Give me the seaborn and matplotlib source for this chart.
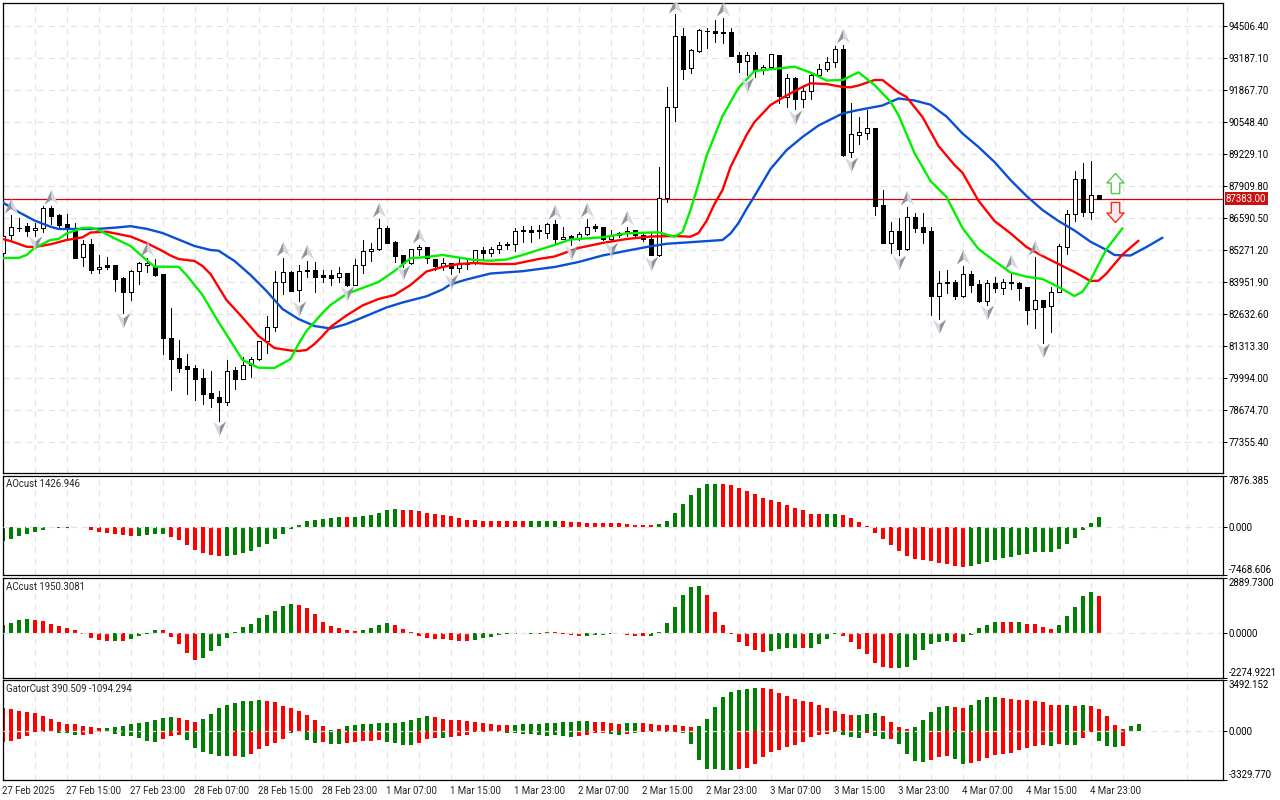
import matplotlib
matplotlib.use("Agg")
import matplotlib.pyplot as plt
from matplotlib.path import Path
import numpy as np
import pandas as pd
import seaborn as sns

# hourly candles, 27 Feb 07:00 -> 5 Mar 00:00
opens = [85149,85879,86192,86250,86085,86167,86992,86703,86332,86098,
         84972,85508,84476,84642,84642,84119,83529,84395,84667,84568,
         84284,81633,80821,80491,80409,79997,79366,79201,78995,80326,
         79968,80521,80767,81510,82087,83966,84354,83612,84436,84436,
         84230,84230,84148,84313,83843,84642,85220,85302,86167,85603,
         85055,84725,85302,85384,84890,84613,84725,84519,84696,84725,
         85261,85162,85302,85520,85508,86085,86085,86085,85986,86345,
         85739,85850,85714,85932,86262,86209,85714,85879,85961,86097,
         85891,85714,85067,87404,91180,94094,92787,93488,94288,94300,
         94247,94247,93311,93076,93311,92692,92829,93311,91592,92350,
         91485,91839,92486,92721,93010,93558,89300,90026,90108,90290,
         87128,85574,86056,85314,86621,86221,86044,83389,83970,83954,
         83377,84271,83871,83183,83900,83719,83912,83900,83748,82829,
         83200,82977,83554,85409,86744,88187,86827,87528]
highs = [86015,86716,86604,86398,86378,87087,87087,86773,86757,86406,
         85685,85714,85055,84972,84642,84148,84449,84791,84956,84890,
         84284,82870,81563,80986,80533,80380,80285,79473,80739,80462,
         80875,80850,81534,82553,84407,84931,84387,84642,84820,84766,
         84461,84449,84560,84337,84902,85685,85574,86550,86262,85632,
         85055,85314,85479,85409,84890,84931,84750,84931,84931,85273,
         85409,85384,85590,85615,86192,86262,86262,86303,86374,86510,
         86209,85891,86027,86550,86345,86233,86097,86027,86233,86097,
         85961,85961,88707,91979,95001,94411,93546,94370,94411,94754,
         94824,94411,93422,93422,93422,92899,93352,93311,92528,92392,
         92074,92528,92928,93241,93694,93723,91320,90743,91044,90314,
         87746,86414,86592,87058,86811,86811,86233,84407,84449,84036,
         84613,84407,84036,84036,84172,84078,84313,83967,83760,84997,
         83212,83760,85508,86921,88529,88846,88942,87540]
lows = [85026,85685,86069,85850,85850,86027,86332,86233,85685,84956,
        84613,84337,84337,84502,83594,82688,83212,83871,84379,84221,
        80999,79502,80257,79337,79090,78925,78814,78237,78884,79543,
        79968,80050,80739,81040,81947,83459,83563,83183,84148,83554,
        83967,83843,83942,83789,83830,84337,84832,85273,85545,84791,
        84560,84696,85067,84750,84449,84449,84284,84366,84502,84696,
        84861,85026,85137,85302,85232,85615,85615,85756,85756,85561,
        85739,85479,85685,85891,86069,85685,85685,85796,85850,85796,
        85655,85067,85026,87264,90603,92322,92581,93447,93612,93859,
        93818,93282,92622,92487,92416,92528,92816,91320,91180,91085,
        91180,91497,92445,92651,92829,89148,89119,89642,89836,86716,
        85549,85162,85067,85285,86002,85549,82594,82429,83512,83265,
        83348,83529,83142,83006,83554,83459,83665,83212,82223,82058,
        81428,81904,83529,85108,86468,86674,86563,87375]
closes = [85862,86233,86167,86069,86167,86992,86687,86316,86151,84956,
          85508,84461,84584,84584,84090,83529,84395,84725,84725,84248,
          81658,80792,80422,80380,79968,79350,79185,78995,80297,79968,
          80533,80767,81510,82087,83966,84354,83596,84420,84407,84172,
          84160,84131,84313,83830,84642,85220,85302,86167,85574,85038,
          84725,85302,85384,84931,84613,84725,84519,84696,84725,85261,
          85162,85302,85467,85467,86044,86044,86027,86044,86345,85727,
          85821,85714,85932,86233,86192,85714,85891,85961,86069,85891,
          85714,85067,87404,91180,94094,92734,93517,94329,94313,94205,
          94205,93282,93035,93311,92692,92804,93340,91621,92350,91485,
          91839,92486,92721,93010,93546,89189,90042,90125,90290,87099,
          85574,86044,85314,86621,86180,86027,83389,83900,83900,83377,
          84271,83843,83171,83900,83719,83941,83941,83719,82812,83200,
          82936,83529,85426,86744,88187,86827,87528,87383]

# alligator lines, read at the bars where they bend
jaw_k = [0,2,4,6,7,10,12,14,16,18,20,22,24,26,27,29,31,33,35,37,39,41,43,45,48,50,53,55,56,58,61,65,69,
         72,75,78,81,83,86,90,91,92,93,94,96,98,100,102,105,107,110,111,112,114,116,118,120,122,124,126,
         128,130,132,134,136,138,139,141,143,145]
jaw_vals = [87239,86839,86489,86233,86139,86139,86147,86192,86254,86147,85974,85706,85438,85273,85244,
            84820,84243,83583,82841,82429,82140,82037,82223,82491,82903,83109,83365,83645,83859,84057,
            84304,84399,84572,84778,85046,85240,85426,85529,85595,85685,85953,86386,86963,87499,88612,
            89387,89931,90405,90900,91044,91230,91374,91518,91435,91262,90776,90075,89519,88900,88158,
            87499,86922,86468,86077,85615,85273,85067,85046,85397,85780]
teeth_k = [0,1,3,4,6,8,10,11,13,16,18,20,21,22,24,25,26,28,30,32,34,36,37,38,39,40,41,43,45,47,49,51,53,55,
           57,59,61,64,67,69,72,75,78,81,84,86,87,88,89,90,91,93,94,96,98,100,101,103,105,106,107,109,110,
           112,113,115,117,119,120,122,124,126,128,130,132,134,136,137,138,140,142]
teeth_vals = [85726,85644,85409,85397,85508,85685,85796,85994,86027,85829,85562,85232,85046,84902,84820,
              84613,84284,83212,82491,81728,81233,81130,81110,81151,81398,81728,82099,82573,82986,83253,
              83418,83830,84387,84572,84696,84737,84696,84696,84902,85005,85356,85562,85726,85829,85850,
              85821,85974,86468,87169,87746,88694,90013,90549,91250,91642,91992,92144,92115,91992,91979,
              92054,92280,92280,91765,91580,90755,89560,88777,88459,87305,86468,85961,85397,85026,84696,
              84366,83995,84008,84304,85088,85656]
lips_k = [0,2,3,4,6,7,8,10,11,12,14,16,18,19,22,23,25,27,29,30,32,34,36,37,38,40,41,43,45,47,49,51,53,55,57,
          59,61,63,65,67,69,71,75,78,82,84,85,86,87,88,90,92,94,99,101,103,105,107,109,111,112,114,116,118,
          120,122,124,126,128,130,132,134,135,136,138,140]
lips_vals = [84943,84943,85067,85356,85685,85726,85953,86180,86192,86097,85755,85438,84861,84584,84584,
             84243,83418,82305,81275,80739,80421,80409,80780,81398,81934,82676,83006,83459,83707,83954,
             84407,84931,84984,85067,84964,84861,84832,84881,85067,85273,85479,85706,85796,85961,86002,
             85821,86015,86922,87994,89148,90796,91951,92651,92829,92590,92260,92280,92598,92074,91386,
             90838,89271,88117,87458,86180,85314,84820,84345,84172,84077,83748,83377,83554,84036,85314,
             86167]

# fractals
up_k = [1,6,18,35,38,47,52,69,73,78,84,90,105,113,120,126,129]
up_price = [87087,87458,85314,85314,85190,86922,85850,86839,86922,86592,95331,95207,94094,87416,84984,84778,85355]
down_k = [4,15,27,37,43,50,56,71,76,81,93,99,106,112,117,123,130]
down_price = [85562,82388,77936,82882,83500,84366,83995,85190,85314,84737,92116,90755,88818,84778,82140,82717,81151]

ao_vals = [-2170,-1860,-1395,-1085,-775,-465,-258,-155,-155,-100,
           -100,-465,-775,-930,-1085,-1240,-1395,-1395,-1240,-1085,
           -1085,-1550,-2015,-2790,-3565,-4030,-4340,-4495,-4495,-4340,
           -4030,-3720,-3100,-2635,-1860,-1085,-310,310,930,1085,
           1240,1395,1550,1550,1550,1705,1860,2170,2480,2635,
           2480,2480,2325,2170,2015,1860,1705,1395,1085,1085,
           930,930,930,930,930,930,930,930,930,930,
           930,775,775,620,620,620,620,620,465,310,
           310,310,465,930,2170,3410,4805,5890,6510,6510,
           6510,6355,5890,5425,4960,4340,4030,3720,3255,2790,
           2480,2015,2015,2015,2015,1860,1395,775,155,-930,
           -1860,-2790,-3720,-4495,-4960,-5115,-5270,-5580,-5735,-6045,
           -6200,-6045,-5735,-5425,-5115,-4805,-4650,-4340,-4185,-3875,
           -3875,-3875,-3410,-2635,-1705,-465,620,1427]
ao_cols = ("GGGGGGGGGG" "RRRRRRRGGG" "GRRRRRRRGG" "GGGGGGGGGG" "GGGRGGGGGG"
           "RRRRRRRRRR" "RRRRRRGGGG" "RRRRRRRRRR" "RRGGGGGGGG" "RRRRRRRRRR"
           "RRRGGRRRRR" "RRRRRRRRRR" "RGGGGGGGGG" "GGGGGGGG")

ac_vals = [413,516,671,722,671,619,464,361,258,155,
           -52,-258,-361,-413,-413,-413,-310,-155,-52,155,
           155,-206,-568,-1032,-1393,-1290,-929,-671,-258,52,
           310,464,774,929,1135,1393,1496,1445,1290,980,
           568,361,258,155,103,155,258,413,516,413,
           206,52,-155,-258,-310,-310,-361,-413,-413,-361,
           -258,-206,-103,-52,-17,-34,-34,-17,52,52,
           -17,-103,-155,-155,-103,-103,-34,34,-103,-155,
           -155,-155,52,516,1342,1961,2374,2425,1961,1084,
           413,-34,-464,-671,-877,-980,-929,-826,-774,-774,
           -774,-774,-568,-310,-52,-155,-464,-826,-1084,-1548,
           -1754,-1806,-1806,-1754,-1393,-877,-568,-464,-413,-464,
           -464,-69,258,413,568,568,568,568,464,464,
           310,206,413,877,1342,1909,2116,1950]
ac_cols = ("GGGGRRRRRR" "RRRRGRGGGG" "RRRRRGGGGG" "GGGGGGGRRR" "RRRRRGGGGR"
           "RRRRRRRRRG" "GGGGGGGRGR" "RRRGGGGRRR" "RGGGGGGGRR" "RRRRRRGGGG"
           "RGGGGRRRRR" "RRGGGGGGGR" "GGGGGRRGRR" "RRGGGGGR")

gator_up = [1528,1459,1368,1277,1186,980,775,570,433,433,
            296,228,160,160,228,296,433,502,570,707,
            844,912,844,707,570,775,1117,1528,1733,1870,
            2006,2006,2075,2006,1938,1664,1528,1322,1049,707,
            296,23,91,296,365,433,433,502,502,502,
            570,707,844,980,912,775,707,707,638,570,
            502,433,365,365,365,433,433,433,502,502,
            570,570,638,638,570,570,502,433,502,502,
            502,433,365,365,365,296,228,296,775,1596,
            2280,2622,2759,2827,2896,2896,2827,2554,2348,2143,
            2006,1938,1733,1528,1322,1117,1049,1049,1117,1186,
            980,570,228,91,228,707,1254,1596,1664,1596,
            1528,1733,2075,2280,2280,2212,2143,2075,2075,2006,
            1938,1733,1733,1733,1664,1733,1664,1459,980,365,
            91,296,433]
gator_up_cols = ("RRRRRRRRRR" "RRRGGGGGGG" "GGRRRGGGGG" "GGGRRRRRRR" "RGRGGGGGGG"
                 "GGGGRRRRRR" "RRRRGGGGGG" "GGGGRRRRGG" "RRRRRRRGGG" "GGGGGRRRRR"
                 "RRRRRRRGGG" "RRRRGGGGGR" "RGGGGRRRRR" "RRRGRGRRRR" "RGG")
gator_low = [-752,-707,-570,-388,-68,-91,-68,-137,-182,-319,
             -319,-251,-114,-114,-251,-388,-388,-524,-730,-798,
             -593,-388,-319,-661,-1208,-1482,-1619,-1756,-1756,-1756,
             -1824,-1619,-1277,-1072,-866,-593,-182,-114,-661,-866,
             -798,-935,-935,-866,-798,-730,-730,-661,-798,-866,
             -1003,-1003,-866,-593,-524,-524,-456,-388,-319,-114,
             -114,-68,-114,-182,-182,-251,-251,-319,-388,-319,
             -388,-456,-388,-319,-182,-182,-251,-319,-251,-182,
             -114,-114,-68,-68,-68,-182,-935,-2029,-2645,-2645,
             -2713,-2713,-2645,-2576,-2303,-1824,-1482,-1345,-1140,-1003,
             -798,-456,-319,-251,-114,-319,-456,-524,-182,-388,
             -593,-593,-935,-1619,-2098,-2166,-2029,-1824,-1756,-1961,
             -2303,-2234,-2098,-1892,-1687,-1619,-1550,-1345,-1208,-1072,
             -1003,-1072,-935,-1003,-1003,-524,-68,-730,-1072,-1140,
             -1072]
gator_low_cols = ("RRRRRGGGGG" "RRRGGGGGGG" "RRRGGGGGGR" "GRRRRRGRGG" "RGGRRRRRGG"
                  "GGRRRGRRRR" "RRGGGGGGGG" "GGRRRRGGRG" "RGRGRGGGGG" "GGRRRRRRRR"
                  "RRRRGGGGRG" "GRGGGGRRRG" "GRRRRRRRRR" "RGRGGRRGGGR")

price_ticks = [94506.40,93187.10,91867.70,90548.40,89229.10,87909.80,86590.50,
               85271.20,83951.90,82632.60,81313.30,79994.00,78674.70,77355.40]
ao_ticks = [7876.385, 0.0, -7468.606]
ac_ticks = [2889.7300, 0.0, -2274.9221]
gator_ticks = [3492.152, 0.0, -3329.770]
last_price = 87383.00
date_labels = ["27 Feb 2025","27 Feb 15:00","27 Feb 23:00","28 Feb 07:00","28 Feb 15:00","28 Feb 23:00",
               "1 Mar 07:00","1 Mar 15:00","1 Mar 23:00","2 Mar 07:00","2 Mar 15:00","2 Mar 23:00",
               "3 Mar 07:00","3 Mar 15:00","3 Mar 23:00","4 Mar 07:00","4 Mar 15:00","4 Mar 23:00"]

sns.set_theme(style="white")
plt.rcParams['font.family'] = ['Roboto', 'DejaVu Sans']

W, H = 1280, 800
FS = 6.9
GRID = '#e4e4e4'
RED = '#ff0000'
GREEN = '#008000'
pal = {'R': RED, 'G': GREEN}
fig = plt.figure(figsize=(W / 100, H / 100), dpi=100, facecolor='white')


def pane(top, bottom, ylim, ticks, fmt):
    ax = fig.add_axes([2.5 / W, 1 - bottom / H, 1220 / W, (bottom - top) / H])
    ax.set_xlim(0, 152.5)
    ax.set_ylim(*ylim)
    ax.set_xticks(np.arange(0, 137, 8))
    ax.set_xticks(np.arange(4, 153, 8), minor=True)
    ax.yaxis.tick_right()
    ax.set_yticks(ticks)
    ax.set_yticklabels([fmt % t for t in ticks])
    ax.tick_params(axis='y', length=3, width=0.72, pad=1.5, labelsize=FS, colors='black')
    ax.tick_params(axis='x', which='both', length=0, labelbottom=False)
    ax.grid(axis='x', which='both', color=GRID, ls=(0, (5, 4)), lw=0.9)
    ax.set_axisbelow(True)
    for s in ax.spines.values():
        s.set_visible(True)
        s.set_color('black')
        s.set_linewidth(0.9)
    return ax


def hist(ax, vals, cols):
    k = np.arange(len(vals))
    df = pd.DataFrame({'k': k, 'v': vals, 'c': list(cols)})
    sns.barplot(df, x='k', y='v', hue='c', palette=pal, native_scale=True, dodge=False, orient='x',
                width=0.5, saturation=1, errorbar=None, legend=False, ax=ax)
    ax.set_xlabel('')
    ax.set_ylabel('')


# main pane
ax = pane(2.5, 473, (76081, 95475), price_ticks, '%.2f')
ax.grid(axis='y', color=GRID, ls=(0, (5, 4)), lw=0.9)
bars = np.arange(len(opens))
o, h, l, c = map(np.array, (opens, highs, lows, closes))
ax.vlines(bars, l, h, color='black', lw=0.72, zorder=3, antialiased=False)
up = c >= o
ax.bar(bars[up], (c - o)[up], bottom=o[up], width=0.5, color='white', edgecolor='black', lw=0.72, zorder=4, antialiased=False)
ax.bar(bars[~up], (c - o)[~up], bottom=o[~up], width=0.5, color='black', edgecolor='black', lw=0.72, zorder=4, antialiased=False)
ax.axhline(last_price, color='#dd0000', lw=0.9, zorder=2)

sns.lineplot(x=jaw_k, y=jaw_vals, color='#0a50d2', lw=1.7, ax=ax, estimator=None, zorder=5)
sns.lineplot(x=teeth_k, y=teeth_vals, color=RED, lw=1.7, ax=ax, estimator=None, zorder=6)
sns.lineplot(x=lips_k, y=lips_vals, color='#00f000', lw=1.7, ax=ax, estimator=None, zorder=7)

# two tone fractal kites
kite_l = Path([(0, 1), (0, -0.25), (-0.85, -0.9), (0, 1)])
kite_r = Path([(0, 1), (0.85, -0.9), (0, -0.25), (0, 1)])
flip = lambda p: Path(p.vertices * [1, -1])
for xs, ys, a, b in [(up_k, up_price, kite_l, kite_r), (down_k, down_price, flip(kite_r), flip(kite_l))]:
    sns.scatterplot(x=xs, y=ys, marker=a, s=130, color='#8e949c', linewidth=0, ax=ax, zorder=8)
    sns.scatterplot(x=xs, y=ys, marker=b, s=130, color='#d4d8de', linewidth=0, ax=ax, zorder=8)

arrow_up = Path([(0, 1), (0.85, 0.05), (0.42, 0.05), (0.42, -1), (-0.42, -1), (-0.42, 0.05), (-0.85, 0.05), (0, 1)])
ax.scatter([139], [88055], marker=arrow_up, s=210, facecolor='white', edgecolor='#55c855', lw=1.0, zorder=9)
ax.scatter([139], [86860], marker=flip(arrow_up), s=210, facecolor='#ffe8ee', edgecolor='#f03020', lw=1.0, zorder=9)

ax.annotate('%.2f' % last_price, xy=(1, last_price), xycoords=ax.get_yaxis_transform(), xytext=(2.5, 0),
            textcoords='offset points', va='center', ha='left', color='white', fontsize=FS, zorder=10,
            bbox=dict(boxstyle='square,pad=0.15', fc='#cc1010', ec='#cc1010', lw=0))
ax.set_xlim(0, 152.5)
ax.set_ylim(76081, 95475)

# oscillators
ax1 = pane(475.5, 575, (-7468.606, 7876.385), ao_ticks, '%.3f')
hist(ax1, ao_vals, ao_cols)
ax1.text(0.0028, 0.91, 'AOcust 1426.946', transform=ax1.transAxes, fontsize=FS, va='center')

ax2 = pane(577.5, 677.5, (-2274.9221, 2889.73), ac_ticks, '%.4f')
hist(ax2, ac_vals, ac_cols)
ax2.text(0.0028, 0.91, 'ACcust 1950.3081', transform=ax2.transAxes, fontsize=FS, va='center')

ax3 = pane(679.5, 779.5, (-3329.77, 3492.152), gator_ticks, '%.3f')
hist(ax3, gator_up, gator_up_cols)
hist(ax3, gator_low, gator_low_cols)
ax3.text(0.0028, 0.91, 'GatorCust 390.509 -1094.294', transform=ax3.transAxes, fontsize=FS, va='center')
ax3.set_xticks(np.arange(0, 137, 8))
ax3.set_xticklabels(date_labels, ha='left')
ax3.tick_params(axis='x', which='major', length=3.5, width=0.72, pad=1.5, labelbottom=True, labelsize=FS)

for a in (ax1, ax2, ax3):
    a.axhline(0, color=GRID, ls=(0, (5, 4)), lw=0.9, zorder=5)
    a.set_xlim(0, 152.5)
    for p in a.patches:
        p.set_antialiased(False)
        p.set_linewidth(0)
    labs = a.get_yticklabels()
    labs[0].set_va('top')
    labs[-1].set_va('bottom')
ax1.set_ylim(-7468.606, 7876.385)
ax2.set_ylim(-2274.9221, 2889.73)
ax3.set_ylim(-3329.77, 3492.152)

fig.savefig('out.png', dpi=100, facecolor='white')
